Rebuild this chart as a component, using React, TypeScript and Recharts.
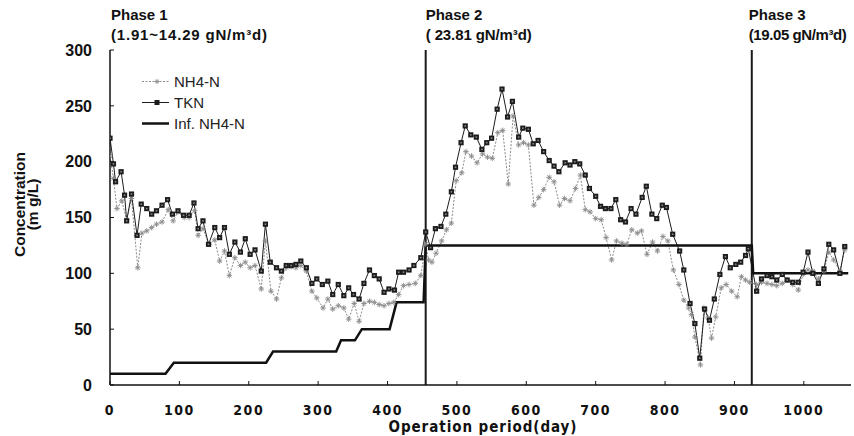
import React from 'react';
import { LineChart, Line, XAxis, YAxis, ReferenceLine, Legend } from 'recharts';

// ---- data ----
const nh4Days = [0, 5, 10, 17, 24, 31, 40, 46, 53, 60, 67, 75, 84, 91, 98, 107, 114, 122, 127, 134, 143, 151, 158, 165, 172, 180, 188, 195, 202, 209, 218, 224, 232, 240, 247, 254, 261, 268, 275, 283, 291, 298, 307, 314, 321, 329, 337, 344, 352, 359, 366, 374, 381, 388, 395, 402, 409, 416, 423, 431, 440, 448, 455,
  459, 464, 470, 478, 485, 492, 499, 507, 513, 521, 529, 537, 544, 551, 559, 566, 574, 581, 589, 596, 603, 611, 618, 625, 633, 640, 648, 655, 663, 671, 678, 685, 692, 700, 708, 715, 723, 730, 738, 745, 752, 760, 766, 774, 782, 789, 797, 804, 812, 820, 827, 834, 838, 843, 851, 856, 862, 867, 873, 881, 888, 896, 904, 910, 916, 922,
  932, 939, 947, 954, 961, 969, 976, 984, 992, 999, 1006, 1013, 1021, 1029, 1036, 1043, 1052, 1059];
const nh4Values = [205, 185, 158, 165, 148, 167, 105, 136, 138, 141, 144, 146, 157, 147, 155, 150, 150, 156, 134, 140, 126, 130, 111, 120, 98, 114, 107, 110, 105, 107, 86, 129, 84, 77, 96, 105, 106, 105, 107, 102, 84, 78, 69, 77, 68, 71, 69, 59, 73, 57, 73, 75, 74, 72, 71, 73, 74, 81, 89, 90, 91, 98, 126,
  112, 110, 118, 129, 139, 145, 183, 190, 209, 205, 199, 207, 204, 203, 226, 228, 180, 241, 215, 217, 215, 161, 168, 175, 186, 182, 161, 167, 165, 176, 188, 157, 155, 149, 148, 132, 112, 129, 127, 126, 139, 136, 138, 117, 128, 120, 133, 129, 103, 90, 76, 69, 63, 43, 18, 69, 60, 42, 61, 87, 90, 84, 79, 97, 94, 92,
  90, 92, 91, 90, 89, 91, 94, 90, 85, 99, 103, 102, 95, 102, 119, 112, 102, 121];

const tknDays = [0, 5, 8, 16, 21, 24, 31, 39, 45, 53, 60, 67, 75, 83, 90, 98, 106, 114, 121, 127, 134, 142, 151, 158, 165, 172, 180, 188, 195, 202, 209, 218, 224, 231, 240, 247, 254, 261, 268, 275, 283, 291, 298, 306, 314, 321, 329, 337, 344, 351, 359, 366, 374, 381, 388, 395, 402, 410, 416, 423, 431, 438, 448, 455,
  462, 469, 477, 484, 492, 498, 506, 512, 520, 528, 536, 543, 550, 558, 565, 573, 580, 589, 595, 603, 610, 617, 625, 633, 640, 647, 656, 663, 670, 677, 685, 691, 700, 707, 714, 722, 729, 736, 743, 751, 758, 767, 773, 781, 788, 796, 802, 811, 821, 827, 836, 843, 850, 857, 864, 871, 879, 887, 894, 902, 909, 916, 920,
  932, 939, 947, 954, 961, 969, 976, 984, 992, 999, 1006, 1013, 1021, 1029, 1036, 1043, 1052, 1059];
const tknValues = [221, 198, 182, 191, 170, 147, 171, 134, 162, 158, 153, 156, 161, 166, 153, 156, 152, 152, 163, 140, 147, 126, 141, 132, 141, 117, 128, 119, 131, 117, 121, 102, 144, 110, 105, 102, 107, 107, 108, 111, 105, 91, 95, 90, 93, 81, 90, 80, 87, 81, 77, 91, 103, 98, 95, 83, 86, 85, 101, 101, 103, 107, 114, 137,
  123, 140, 142, 153, 173, 195, 217, 232, 224, 222, 211, 217, 221, 247, 265, 240, 254, 222, 230, 229, 216, 219, 209, 201, 196, 191, 199, 197, 200, 198, 188, 176, 169, 160, 158, 158, 166, 148, 146, 158, 153, 168, 178, 153, 149, 161, 159, 135, 120, 103, 73, 55, 24, 68, 58, 77, 99, 115, 105, 108, 110, 116, 122,
  84, 95, 98, 97, 94, 99, 94, 92, 92, 101, 119, 100, 91, 104, 126, 121, 100, 124];

const infDays = [0, 80, 92, 225, 235, 326, 333, 353, 363, 403, 413, 452, 455, 925, 927, 1064];
const infValues = [10, 10, 20, 20, 30, 30, 40, 40, 50, 50, 74, 74, 125, 125, 100, 100];

const xTicks = [0, 100, 200, 300, 400, 500, 600, 700, 800, 900, 1000];
const yTicks = [0, 50, 100, 150, 200, 250, 300];
const xDomain = [0, 1068];
const yDomain = [0, 300];

const seriesNames = ['NH4-N', 'TKN', 'Inf. NH4-N'];
const phaseStarts = [0, 455, 925];
const phaseTitles = ['Phase 1', 'Phase 2', 'Phase 3'];
const phaseRates = ['(1.91~14.29 gN/m\u00B3d)', '( 23.81 gN/m\u00B3d)', '(19.05 gN/m\u00B3d)'];
const xAxisTitle = 'Operation period(day)';
const yAxisTitle = ['Concentration', '(m g/L)'];

// ---- helpers ----
const toPoints = (days: number[], values: number[]) => days.map((d, i) => ({ day: d, value: values[i] }));
const nh4Data = toPoints(nh4Days, nh4Values);
const tknData = toPoints(tknDays, tknValues);
const infData = toPoints(infDays, infValues);

const ARIAL = '"Liberation Sans", Arial, Helvetica, sans-serif';
const NARROW = '"DejaVu Sans Condensed", "DejaVu Sans", sans-serif';

const NH4_COLOR = '#8a8a8a';
const TKN_COLOR = '#1c1c1c';
const INF_COLOR = '#111111';

const crossPath = (cx: number, cy: number, r: number) =>
  `M${cx - r},${cy}H${cx + r}M${cx},${cy - r}V${cy + r}M${cx - r * 0.7},${cy - r * 0.7}L${cx + r * 0.7},${cy + r * 0.7}M${cx - r * 0.7},${cy + r * 0.7}L${cx + r * 0.7},${cy - r * 0.7}`;

const Nh4Dot = (props: any) => {
  const { cx, cy, index } = props;
  if (cx == null || cy == null) return <g key={`n${index}`} />;
  return <path key={`n${index}`} d={crossPath(cx, cy, 2.8)} stroke={NH4_COLOR} strokeWidth={0.9} fill="none" />;
};

const TknDot = (props: any) => {
  const { cx, cy, index } = props;
  if (cx == null || cy == null) return <g key={`t${index}`} />;
  return (
    <g key={`t${index}`}>
      <rect x={cx - 2.6} y={cy - 2.6} width={5.2} height={5.2} fill={TKN_COLOR} />
      <rect x={cx - 0.8} y={cy - 0.8} width={1.6} height={1.6} fill="#888" />
    </g>
  );
};

const renderLegend = () => (
  <div style={{ fontFamily: ARIAL, fontSize: 15, color: '#222' }}>
    {seriesNames.map((name, i) => (
      <div key={name} style={{ display: 'flex', alignItems: 'center', height: 21 }}>
        <svg width={31} height={21} style={{ marginRight: 2 }}>
          <line
            x1={1}
            y1={10.5}
            x2={28}
            y2={10.5}
            stroke={i === 0 ? NH4_COLOR : i === 1 ? TKN_COLOR : INF_COLOR}
            strokeWidth={i === 2 ? 2.5 : 1}
            strokeDasharray={i === 0 ? '2 1.5' : undefined}
          />
          {i === 0 && <path d={crossPath(16, 10.5, 2.5)} stroke={NH4_COLOR} strokeWidth={0.9} fill="none" />}
          {i === 1 && <rect x={13.5} y={8} width={5} height={5} fill={TKN_COLOR} />}
        </svg>
        <span>{name}</span>
      </div>
    ))}
  </div>
);

const rateLengths = [156, 106, 98];

const phaseLabel = (i: number, dx: number) => (props: any) => {
  const vb = props.viewBox || { x: 0, y: 0 };
  return (
    <g>
      <text x={vb.x + dx} y={vb.y - 30} fontFamily={ARIAL} fontWeight="bold" fontSize={15} fill="#111">
        {phaseTitles[i]}
      </text>
      <text
        x={vb.x + dx}
        y={vb.y - 10}
        fontFamily={ARIAL}
        fontWeight="bold"
        fontSize={15}
        fill="#111"
        textLength={rateLengths[i]}
        lengthAdjust="spacing"
      >
        {phaseRates[i]}
      </text>
    </g>
  );
};

const yAxisLabel = (props: any) => {
  const vb = props.viewBox || { x: 0, y: 0, width: 0, height: 0 };
  const cy = vb.y + vb.height / 2 - 13;
  const x1 = vb.x + 25;
  const x2 = vb.x + 38;
  return (
    <g>
      <text x={x1} y={cy} transform={`rotate(-90, ${x1}, ${cy})`} textAnchor="middle" fontFamily={ARIAL} fontWeight="bold" fontSize={15.5} fill="#111">
        {yAxisTitle[0]}
      </text>
      <text x={x2} y={cy} transform={`rotate(-90, ${x2}, ${cy})`} textAnchor="middle" fontFamily={ARIAL} fontWeight="bold" fontSize={15.5} fill="#111">
        {yAxisTitle[1]}
      </text>
    </g>
  );
};

const xAxisLabel = (props: any) => {
  const vb = props.viewBox || { x: 0, y: 0, width: 0, height: 0 };
  return (
    <text
      x={vb.x + vb.width / 2 + 2}
      y={vb.y + 47}
      textAnchor="middle"
      fontFamily={NARROW}
      fontWeight="bold"
      fontSize={15}
      textLength={188}
      lengthAdjust="spacing"
      fill="#111"
    >
      {xAxisTitle}
    </text>
  );
};

export default function App() {
  return (
    <div style={{ position: 'absolute', left: 0, top: 0, width: 854, height: 436, overflow: 'hidden', background: '#fff' }}>
      <LineChart width={854} height={436} data={tknData} margin={{ top: 50, right: 3, bottom: 0, left: 0 }}>
        <XAxis
          dataKey="day"
          type="number"
          domain={xDomain}
          ticks={xTicks}
          allowDataOverflow
          height={51}
          tickSize={-4}
          tickMargin={24}
          axisLine={{ stroke: '#111', strokeWidth: 1.5 }}
          tickLine={{ stroke: '#111' }}
          tick={{ fontFamily: NARROW, fontWeight: 'bold', fontSize: 14, fill: '#111', letterSpacing: 1.5 }}
          label={xAxisLabel}
        />
        <XAxis
          xAxisId="top"
          orientation="top"
          dataKey="day"
          type="number"
          domain={xDomain}
          height={0}
          tick={false}
          tickLine={false}
          axisLine={{ stroke: '#666', strokeWidth: 1 }}
        />
        <YAxis
          type="number"
          domain={yDomain}
          ticks={yTicks}
          width={110}
          tickSize={-4}
          tickMargin={22}
          axisLine={{ stroke: '#111', strokeWidth: 1.5 }}
          tickLine={{ stroke: '#111' }}
          tick={{ fontFamily: ARIAL, fontWeight: 'bold', fontSize: 16, fill: '#111' }}
          label={yAxisLabel}
        />
        <YAxis yAxisId="right" orientation="right" width={0} tick={false} tickLine={false} axisLine={{ stroke: '#666', strokeWidth: 1 }} />
        <Legend layout="vertical" align="center" verticalAlign="middle" content={renderLegend} wrapperStyle={{ left: 141, top: 71, width: 'auto', height: 'auto' }} />
        <ReferenceLine x={phaseStarts[0]} stroke="none" label={phaseLabel(0, 1)} />
        <ReferenceLine x={phaseStarts[1]} stroke="#1a1a1a" strokeWidth={2} label={phaseLabel(1, 0)} />
        <ReferenceLine x={phaseStarts[2]} stroke="#1a1a1a" strokeWidth={2} label={phaseLabel(2, -3)} />
        <Line
          data={nh4Data}
          dataKey="value"
          name={seriesNames[0]}
          stroke={NH4_COLOR}
          strokeWidth={1}
          strokeDasharray="2 1.5"
          dot={Nh4Dot}
          activeDot={false}
          isAnimationActive={false}
          type="linear"
        />
        <Line
          data={tknData}
          dataKey="value"
          name={seriesNames[1]}
          stroke={TKN_COLOR}
          strokeWidth={1}
          dot={TknDot}
          activeDot={false}
          isAnimationActive={false}
          type="linear"
        />
        <Line
          data={infData}
          dataKey="value"
          name={seriesNames[2]}
          stroke={INF_COLOR}
          strokeWidth={2.5}
          dot={false}
          activeDot={false}
          isAnimationActive={false}
          type="linear"
        />
      </LineChart>
    </div>
  );
}
